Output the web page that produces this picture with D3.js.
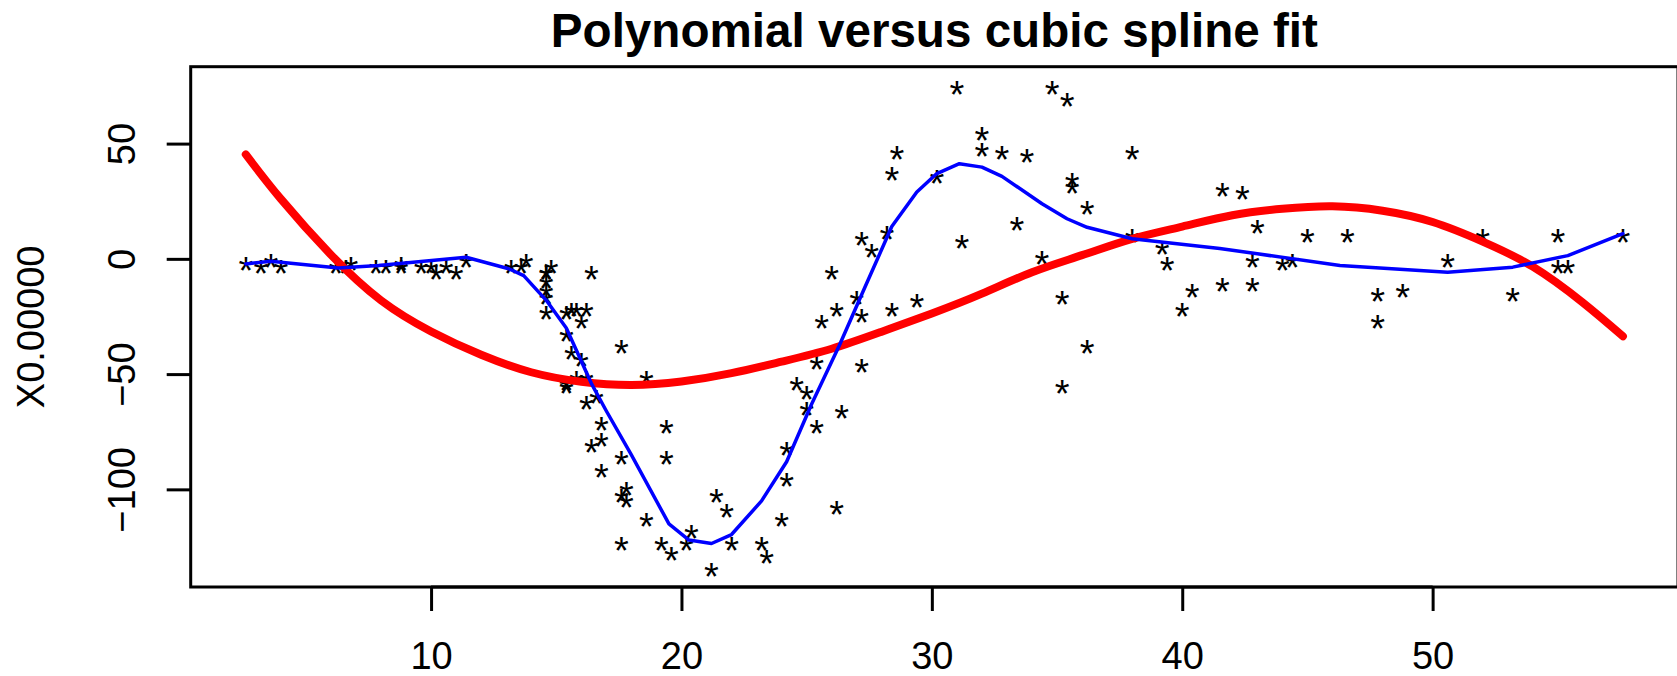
<!DOCTYPE html>
<html>
<head>
<meta charset="utf-8">
<script src="https://d3js.org/d3.v7.min.js"></script>
<style>
  body { margin: 0; background: #fff; }
  svg { display: block; font-family: "Liberation Sans", Arial, Helvetica, sans-serif; }
</style>
</head>
<body>
<svg></svg>
<script>
// motorcycle data (first row was eaten as the header)
const times = [2.6, 3.2, 3.6, 4.0, 6.2, 6.6, 6.8, 7.8, 8.2, 8.8, 8.8, 9.6, 10.0, 10.2, 10.6, 11.0, 11.4, 13.2, 13.6,
  13.8, 14.6, 14.6, 14.6, 14.6, 14.6, 14.6, 14.8, 15.4, 15.4, 15.4, 15.4, 15.6, 15.6, 15.8, 15.8, 16.0, 16.0, 16.2, 16.2,
  16.2, 16.4, 16.4, 16.6, 16.8, 16.8, 16.8, 17.6, 17.6, 17.6, 17.6, 17.8, 17.8, 18.6, 18.6, 19.2, 19.4, 19.4, 19.6, 20.2,
  20.4, 21.2, 21.4, 21.8, 22.0, 23.2, 23.4, 24.0, 24.2, 24.2, 24.6, 25.0, 25.0, 25.4, 25.4, 25.6, 26.0, 26.2, 26.2, 26.4,
  27.0, 27.2, 27.2, 27.2, 27.6, 28.2, 28.4, 28.4, 28.6, 29.4, 30.2, 31.0, 31.2, 32.0, 32.0, 32.8, 33.4, 33.8, 34.4, 34.8,
  35.2, 35.2, 35.4, 35.6, 35.6, 36.2, 36.2, 38.0, 38.0, 39.2, 39.4, 40.0, 40.4, 41.6, 41.6, 42.4, 42.8, 42.8, 43.0, 44.0,
  44.4, 45.0, 46.6, 47.8, 47.8, 48.8, 50.6, 52.0, 53.2, 55.0, 55.0, 55.4, 57.6];
const accel = [-1.3, -2.7, 0.0, -2.7, -2.7, -2.7, -1.3, -2.7, -2.7, -1.3, -2.7, -2.7, -2.7, -5.4,
  -2.7, -5.4, 0.0, -2.7, -2.7, 0.0, -13.3, -5.4, -5.4, -9.3, -16.0, -22.8, -2.7, -22.8, -32.1,
  -53.5, -54.9, -40.2, -21.5, -21.5, -50.8, -42.9, -26.8, -21.5, -50.8, -61.7, -5.4, -80.4, -59.0, -71.0,
  -91.1, -77.7, -37.5, -85.6, -123.1, -101.9, -99.1, -104.4, -112.5, -50.8, -123.1, -85.6, -72.3, -127.2, -123.1,
  -117.9, -134.0, -101.9, -108.4, -123.1, -123.1, -128.5, -112.5, -95.1, -81.8, -53.5, -64.4, -57.6, -72.3, -44.3,
  -26.8, -5.4, -107.1, -21.5, -65.6, -16.0, -45.6, -24.2, 9.5, 4.0, 12.0, -21.5, 37.5, 46.9, -17.4,
  36.2, 75.0, 8.1, 54.9, 48.2, 46.9, 16.0, 45.6, 1.3, 75.0, -16.0, -54.9, 69.6, 34.8, 32.1,
  -37.5, 22.8, 46.9, 10.7, 5.4, -1.3, -21.5, -13.3, 30.8, -10.7, 29.4, 0.0, -10.7, 14.7, -1.3,
  0.0, 10.7, 10.7, -26.8, -14.7, -13.3, 0.0, 10.7, -14.7, -2.7, 10.7, -2.7, 10.7];

// polynomial fit
const polyX = [2.6, 4, 6, 8, 10, 12, 14, 16, 18, 20, 22, 24, 26, 28, 30, 32, 34, 36, 38, 40, 42, 44, 46, 48, 50, 52, 54, 56, 57.6];
const polyY = [45.3, 26, 1.8, -18, -31.5, -41.6, -49.2, -53.3, -54.7, -53.2, -49.6, -44.6, -39, -31.6, -23.7, -15.1, -5.8, 1.6, 8.7, 14, 18.9, 21.7, 22.8, 20.9, 16, 7.5, -3.4, -19, -33.6];

// cubic spline fitted values
const splineX = [2.6, 3.6, 6.3, 7.9, 11.4, 13.1, 13.7, 14.6, 15.4, 16.4, 17.0, 18.0, 19.5, 20.3, 21.2, 22.0, 23.2, 24.2,
  25.2, 26.3, 27.3, 28.4, 29.4, 30.2, 31.1, 32.0, 32.8, 34.4, 35.4, 36.2, 38.0, 41.5, 43.0, 46.3, 50.6, 53.2, 55.4, 57.6];
const splineY = [-2.2, -1, -4, -2.9, 0.7, -4.3, -7.3, -18, -30, -54, -66, -85, -115, -122, -123.5, -119.6, -105, -88,
  -63, -37.7, -13, 14, 29, 37, 41.3, 39.8, 35.8, 23.9, 17.4, 13.7, 8.7, 4.5, 2.2, -2.9, -5.8, -3.6, 1.4, 10.9];

const xTicks = [10, 20, 30, 40, 50];
const yTicks = [50, 0, -50, -100];

const size = {w: 1677, h: 676};
const box = {l: 190.7, r: 1678, t: 66.7, b: 587};
const fs = 38;

const svg = d3.select('svg')
    .attr('width', size.w)
    .attr('height', size.h);

// R style: data range padded 4% each side
const x = d3.scaleLinear().domain([0.4, 59.8]).range([box.l, box.r]);
const y = d3.scaleLinear().domain([-142.36, 83.36]).range([box.b, box.t]);

// points drawn as '*' characters, centred on the ink box of the glyph
svg.append('g')
  .selectAll('text')
  .data(times.map((t, i) => [t, accel[i]]))
  .join('text')
    .attr('x', d => x(d[0]))
    .attr('y', d => y(d[1]) + 0.575 * fs)
    .attr('text-anchor', 'middle')
    .style('font-size', fs + 'px')
    .text('*');

// polynomial (thick red)
svg.append('path')
    .datum(polyX.map((v, i) => [v, polyY[i]]))
    .attr('d', d3.line().x(d => x(d[0])).y(d => y(d[1])).curve(d3.curveNatural))
    .attr('fill', 'none')
    .attr('stroke', '#ff0000')
    .attr('stroke-width', 8)
    .attr('stroke-linecap', 'round')
    .attr('stroke-linejoin', 'round');

// spline (blue)
svg.append('path')
    .datum(splineX.map((v, i) => [v, splineY[i]]))
    .attr('d', d3.line().x(d => x(d[0])).y(d => y(d[1])))
    .attr('fill', 'none')
    .attr('stroke', '#0000ff')
    .attr('stroke-width', 3.5)
    .attr('stroke-linecap', 'round')
    .attr('stroke-linejoin', 'round');

// box
svg.append('rect')
    .attr('x', box.l).attr('y', box.t)
    .attr('width', box.r - box.l).attr('height', box.b - box.t)
    .attr('fill', 'none')
    .attr('stroke', '#000')
    .attr('stroke-width', 3);

// axes
const xAxis = svg.append('g')
    .attr('transform', `translate(0,${box.b})`)
    .call(d3.axisBottom(x).tickValues(xTicks).tickSize(24).tickPadding(0).tickFormat(d3.format('d')));
xAxis.selectAll('text').attr('dy', null).attr('y', 82);

const yAxis = svg.append('g')
    .attr('transform', `translate(${box.l},0)`)
    .call(d3.axisLeft(y).tickValues(yTicks).tickSize(24).tickFormat(d => String(d).replace('-', '\u2212')));
yAxis.selectAll('.tick text')
    .attr('x', null).attr('dy', null)
    .attr('text-anchor', 'middle')
    .attr('transform', 'translate(-55.5,0) rotate(-90)');

svg.selectAll('.domain').remove();
svg.selectAll('.tick line').attr('stroke', '#000').attr('stroke-width', 3);
svg.selectAll('.tick text')
    .attr('fill', '#000')
    .style('font-size', fs + 'px')
    .style('font-family', '"Liberation Sans", Arial, sans-serif');

// axis line from first to last tick (R draws one)
svg.append('line')
    .attr('x1', x(10)).attr('x2', x(50))
    .attr('y1', box.b).attr('y2', box.b)
    .attr('stroke', '#000').attr('stroke-width', 3);

// title
svg.append('text')
    .attr('x', (box.l + box.r) / 2)
    .attr('y', 47)
    .attr('text-anchor', 'middle')
    .style('font-size', '47.6px')
    .style('font-weight', 'bold')
    .text('Polynomial versus cubic spline fit');

// y label
svg.append('text')
    .attr('transform', `translate(44,${(box.t + box.b) / 2}) rotate(-90)`)
    .attr('text-anchor', 'middle')
    .style('font-size', fs + 'px')
    .text('X0.00000');
</script>
</body>
</html>
